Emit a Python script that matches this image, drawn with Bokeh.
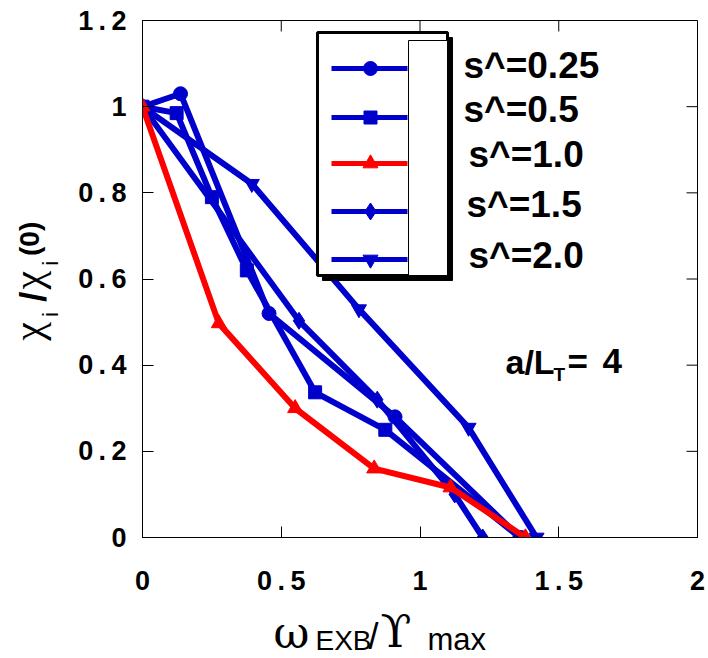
import numpy as np
from bokeh.plotting import figure
from bokeh.models import (Label, LinearAxis, FixedTicker, Range1d)
from bokeh.layouts import row, column
from bokeh.embed import file_html
from bokeh.resources import INLINE

# ---------------- data ----------------
x_025 = [0.0, 0.137, 0.456, 0.91, 1.36]
y_025 = [1.0, 1.03, 0.52, 0.28, 0.0]

x_05 = [0.0, 0.123, 0.25, 0.376, 0.622, 0.875, 1.36]
y_05 = [1.0, 0.985, 0.79, 0.62, 0.337, 0.25, 0.0]

x_10 = [0.0, 0.275, 0.55, 0.835, 1.11, 1.38]
y_10 = [1.0, 0.497, 0.30, 0.16, 0.116, 0.0]

x_15 = [0.0, 0.564, 0.846, 1.125, 1.226]
y_15 = [1.0, 0.503, 0.32, 0.10, 0.0]

x_20 = [0.0, 0.394, 0.78, 1.175, 1.42]
y_20 = [1.0, 0.821, 0.53, 0.255, 0.0]

series_labels = ["s^=0.25", "s^=0.5", "s^=1.0", "s^=1.5", "s^=2.0"]
x_ticks = [0, 0.5, 1, 1.5, 2]
y_ticks = [0, 0.2, 0.4, 0.6, 0.8, 1.0, 1.2]
x_tick_labels = ["0", "0.5", "1", "1.5", "2"]
y_tick_labels = ["0", "0.2", "0.4", "0.6", "0.8", "1", "1.2"]

# ---------------- layout ----------------
W, H = 708, 658
YLW = 70          # width of the strip holding the y-axis title
HTOP = 605        # height of the upper row (plot); the x-axis title strip lies below
FL, FT, FR, FB = 142, 20, 697, 537   # frame edges in page pixels
XMAX, YMAX = 2.0, 1.2
MID = 0.35        # distance (in em) from the alphabetic baseline up to the text middle
ROT = 0.45        # along-text correction (in em) for rotated labels


def dx(px):
    return (px - FL) / (FR - FL) * XMAX


def dy(py):
    return (FB - py) / (FB - FT) * YMAX


BLUE = "#0000cc"
RED = "#ff0000"
SANS = "Liberation Sans"
SERIF = "Liberation Serif"
GREEK = "DejaVu Serif"

p = figure(width=W - YLW, height=HTOP, output_backend="svg", toolbar_location=None,
           x_range=Range1d(0, XMAX), y_range=Range1d(0, YMAX),
           min_border_left=FL - YLW, min_border_top=FT,
           min_border_right=W - FR, min_border_bottom=HTOP - FB,
           x_axis_location=None, y_axis_location=None)
p.background_fill_color = "white"
p.border_fill_color = "white"
p.outline_line_color = "black"
p.outline_line_width = 1
p.xgrid.visible = False
p.ygrid.visible = False


def spaced(s):
    return "\u2009".join(list(s))


def make_axis(ticks, labels, size, standoff):
    ax = LinearAxis(ticker=FixedTicker(ticks=ticks))
    ax.major_tick_in = 11
    ax.major_tick_out = 0
    ax.minor_tick_line_color = None
    ax.axis_line_color = "black"
    ax.major_tick_line_color = "black"
    ax.major_tick_line_width = 1
    ax.major_label_overrides = {t: spaced(l) for t, l in zip(ticks, labels)}
    ax.major_label_text_font = SANS
    ax.major_label_text_font_style = "bold"
    ax.major_label_text_font_size = size
    ax.major_label_text_color = "black"
    ax.major_label_standoff = standoff
    return ax


p.add_layout(make_axis(x_ticks, x_tick_labels, "27px", 28), "below")
p.add_layout(make_axis(y_ticks, y_tick_labels, "27px", 16), "left")

# inward ticks on the top and right edges of the frame
TLX = 11 / (FR - FL) * XMAX
TLY = 11 / (FB - FT) * YMAX
p.segment(x0=x_ticks, x1=x_ticks, y0=[YMAX] * len(x_ticks),
          y1=[YMAX - TLY] * len(x_ticks), line_color="black", line_width=1)
p.segment(x0=[XMAX] * len(y_ticks), x1=[XMAX - TLX] * len(y_ticks),
          y0=y_ticks, y1=y_ticks, line_color="black", line_width=1)

# ---------------- series ----------------
LW = 6
series = [
    (x_025, y_025, BLUE, "circle", 14),
    (x_05, y_05, BLUE, "square", 13),
    (x_15, y_15, BLUE, "diamond", 17),
    (x_20, y_20, BLUE, "inverted_triangle", 15),
    (x_10, y_10, RED, "triangle", 15),
]
for xs, ys, col, mk, sz in series:
    p.line(xs, ys, line_color=col, line_width=LW)
    p.scatter(xs, ys, marker=mk, size=sz, fill_color=col, line_color=col)

# ---------------- legend (drawn by hand) ----------------
p.quad(left=[dx(322)], right=[dx(452)], top=[dy(37)], bottom=[dy(280)],
       fill_color="black", line_color="black")
p.quad(left=[dx(317)], right=[dx(447)], top=[dy(32)], bottom=[dy(275)],
       fill_color="white", line_color="black", line_width=3)
p.quad(left=[dx(408)], right=[dx(447)], top=[dy(40)], bottom=[dy(275)],
       fill_color="white", line_color="black", line_width=1)

leg_rows = [68, 117, 163, 211, 259]
leg_base = [78, 122, 167, 217, 268]
leg_x = [463, 463, 468, 466, 468]
leg_style = [(BLUE, "circle", 14), (BLUE, "square", 13), (RED, "triangle", 15),
             (BLUE, "diamond", 17), (BLUE, "inverted_triangle", 15)]
for ry, (col, mk, sz) in zip(leg_rows, leg_style):
    p.line([dx(331), dx(407)], [dy(ry), dy(ry)], line_color=col, line_width=5)
    p.scatter([dx(370)], [dy(ry)], marker=mk, size=sz, fill_color=col, line_color=col)


def plab(px, base, text, size, style="bold"):
    # label inside the plot frame; px = left edge, base = baseline (page pixels)
    p.add_layout(Label(x=dx(px), y=dy(base - MID * size), text=text,
                       text_font=SANS, text_font_style=style,
                       text_font_size=f"{size}px", text_color="black",
                       text_baseline="middle", text_align="left"))


for lab_t, by, lx in zip(series_labels, leg_base, leg_x):
    plab(lx, by, lab_t, 37)

# a/L_T = 4
plab(505, 373, "a/L", 34)
plab(553, 381, "T", 19)
plab(567, 373, "=", 35)
plab(602, 373, "4", 35)


def strip(w, h, y0):
    # a blank figure whose data coordinates equal page pixels
    f = figure(width=w, height=h, output_backend="svg", toolbar_location=None,
               x_range=Range1d(0, w), y_range=Range1d(y0 + h, y0),
               min_border=0, x_axis_location=None, y_axis_location=None)
    f.outline_line_color = None
    f.xgrid.visible = False
    f.ygrid.visible = False
    f.background_fill_color = "white"
    f.border_fill_color = "white"
    return f


def hlab(fig, px, base, text, size, font=SANS, style="normal"):
    fig.add_layout(Label(x=px, y=base - MID * size, text=text, text_font=font,
                         text_font_size=f"{size}px", text_font_style=style,
                         text_color="black", text_baseline="middle",
                         text_align="left"))


def vlab(fig, base_x, py, text, size, font=SANS, style="normal"):
    # rotated 90 degrees counter-clockwise; text runs upward from py
    fig.add_layout(Label(x=base_x - MID * size, y=py + ROT * size, text=text,
                         text_font=font, text_font_size=f"{size}px",
                         text_font_style=style, text_color="black",
                         text_baseline="middle", text_align="left",
                         angle=np.pi / 2))


# y axis title strip
ylab = strip(YLW, HTOP, 0)
vlab(ylab, 42, 356, "\u03c7", 42, font=SERIF)
vlab(ylab, 58, 337, "i", 22)
vlab(ylab, 46, 313, "/", 36, style="bold")
vlab(ylab, 42, 296, "\u03c7", 42, font=SERIF)
vlab(ylab, 58, 277, "i", 22)
vlab(ylab, 39, 263, "(0)", 28, style="bold")

# x axis title strip
xlab = strip(W, H - HTOP, HTOP)
hlab(xlab, 273, 647, "\u03c9", 44, font=GREEK)
hlab(xlab, 315, 650, "EXB", 28)
hlab(xlab, 368, 649, "/", 36)
hlab(xlab, 380, 647, "\u03d2", 45, font=GREEK)
hlab(xlab, 427, 650, "max", 31)

layout = column(row(ylab, p, spacing=0), xlab, spacing=0)
open("out.html", "w").write(file_html(layout, INLINE))
